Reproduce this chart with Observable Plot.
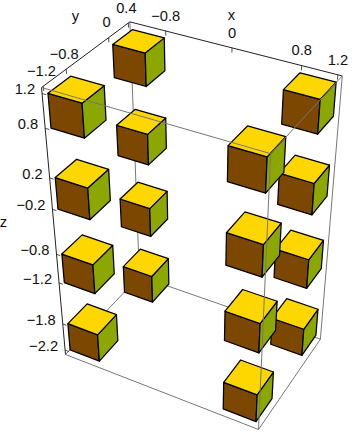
<!DOCTYPE html>
<html><head><meta charset="utf-8">
<style>html,body{margin:0;padding:0;background:#fff}svg{display:block}</style>
<script src="https://cdn.jsdelivr.net/npm/d3@7"></script>
<script src="https://cdn.jsdelivr.net/npm/@observablehq/plot@0.6"></script>
</head><body><script>
// Data
const xCenters=[-1,1];
const yCenters=[0.2,-1];
const zCenters=[-2,-1,0,1];
const cubeSide=0.4;
const xTicks=[-0.8,0,0.8,1.2];
const yTicks=[-1.2,-0.8,0,0.4];
const zTicks=[1.2,0.8,0.2,-0.2,-0.8,-1.2,-1.8,-2.2];
const xRange=[-1.248,1.248], yRange=[-1.232,0.432], zRange=[-2.268,1.268];
const faceColors={top:"#ffd700",front:"#7c4700",right:"#8ca800"};
// Camera (projective view of the unit box)
const origin=[65,354], ax=[175.2,45.4], ay=[86.4,-53.6], az=[-30.3,-280.4], persp=[-0.069,0.09,-0.154];
function proj(x,y,z){
  const u=(x-xRange[0])/(xRange[1]-xRange[0]), v=(y-yRange[0])/(yRange[1]-yRange[0]), w=(z-zRange[0])/(zRange[1]-zRange[0]);
  const d=1+persp[0]*u+persp[1]*v+persp[2]*w;
  return [(origin[0]+ax[0]*u+ay[0]*v+az[0]*w)/d,(origin[1]+ax[1]*u+ay[1]*v+az[1]*w)/d];
}
const fmt=v=>String(v).replace("-","\u2212");
// Faces
const faces=[];let id=0;
for(const cy of yCenters)for(const cx of xCenters)for(const cz of zCenters){
  const h=cubeSide/2,x0=cx-h,x1=cx+h,y0=cy-h,y1=cy+h,z0=cz-h,z1=cz+h;
  const quads={front:[[x0,y0,z0],[x1,y0,z0],[x1,y0,z1],[x0,y0,z1]],
    right:[[x1,y0,z0],[x1,y1,z0],[x1,y1,z1],[x1,y0,z1]],
    top:[[x0,y0,z1],[x1,y0,z1],[x1,y1,z1],[x0,y1,z1]]};
  for(const k of ["front","right","top"]){id++;
    for(const p of quads[k]){const [px,py]=proj(...p);faces.push({id,color:faceColors[k],px,py});}}
}
// Box edges
const [xa,xb]=xRange,[ya,yb]=yRange,[za,zb]=zRange;
const edge=(a,b)=>{const p=proj(...a),q=proj(...b);return {x1:p[0],y1:p[1],x2:q[0],y2:q[1]};};
const backEdges=[[[xa,yb,za],[xa,yb,zb]],[[xa,ya,za],[xa,yb,za]],[[xa,yb,za],[xb,yb,za]],[[xb,yb,za],[xb,yb,zb]]].map(e=>edge(...e));
const frontEdges=[[[xa,ya,za],[xb,ya,za]],[[xb,ya,za],[xb,yb,za]],[[xb,ya,za],[xb,ya,zb]],[[xa,ya,zb],[xb,ya,zb]],[[xb,ya,zb],[xb,yb,zb]]].map(e=>edge(...e));
const axisEdges=[[[xa,ya,za],[xa,ya,zb]],[[xa,ya,zb],[xa,yb,zb]],[[xa,yb,zb],[xb,yb,zb]]].map(e=>edge(...e));
const tl=0.055;
const tickLinks=[
  ...xTicks.map(t=>edge([t,yb,zb],[t,yb,zb-tl])),
  ...yTicks.map(t=>edge([xa,t,zb],[xa,t,zb-tl])),
  ...zTicks.map(t=>edge([xa,ya,t],[xa+0.05,ya,t]))];
const lab=(p,text)=>({px:p[0],py:p[1],text});
const xLabels=xTicks.map(t=>lab(proj(t,yb,zb),fmt(t)));
const yLabels=yTicks.map(t=>lab(proj(xa,t,zb),fmt(t)));
const zLabels=zTicks.map(t=>lab(proj(xa,ya,t),fmt(t)));
const titles=[{px:231,py:15,text:"x"},{px:75,py:16,text:"y"},{px:3,py:222,text:"z"}];
const font={fontFamily:"'Liberation Sans',Arial,sans-serif",fontSize:14.7,fill:"#111"};
const chart=Plot.plot({width:352,height:432,margin:0,
  x:{domain:[0,352],range:[0,352],axis:null},y:{domain:[0,432],range:[0,432],axis:null},
  color:{type:"identity"},
  style:{background:"#fff"},
  marks:[
    Plot.link(backEdges,{x1:"x1",y1:"y1",x2:"x2",y2:"y2",stroke:"#777",strokeWidth:1}),
    Plot.link(axisEdges,{x1:"x1",y1:"y1",x2:"x2",y2:"y2",stroke:"#222",strokeWidth:1}),
    Plot.link(tickLinks,{x1:"x1",y1:"y1",x2:"x2",y2:"y2",stroke:"#222",strokeWidth:0.8}),
    Plot.line(faces,{x:"px",y:"py",z:"id",fill:"color",stroke:"#000",strokeWidth:1.25,curve:"linear-closed",strokeLinejoin:"round"}),
    Plot.link(frontEdges,{x1:"x1",y1:"y1",x2:"x2",y2:"y2",stroke:"#777",strokeWidth:1}),
    Plot.text(xLabels,{x:"px",y:"py",text:"text",dy:-15,textAnchor:"middle",...font}),
    Plot.text(yLabels,{x:"px",y:"py",text:"text",dx:-2,dy:-15,textAnchor:"middle",...font}),
    Plot.text(zLabels,{x:"px",y:"py",text:"text",dx:-7,dy:-4,textAnchor:"end",...font}),
    Plot.text(titles,{x:"px",y:"py",text:"text",textAnchor:"middle",...font})
  ]});
document.body.appendChild(chart);
</script></body></html>
